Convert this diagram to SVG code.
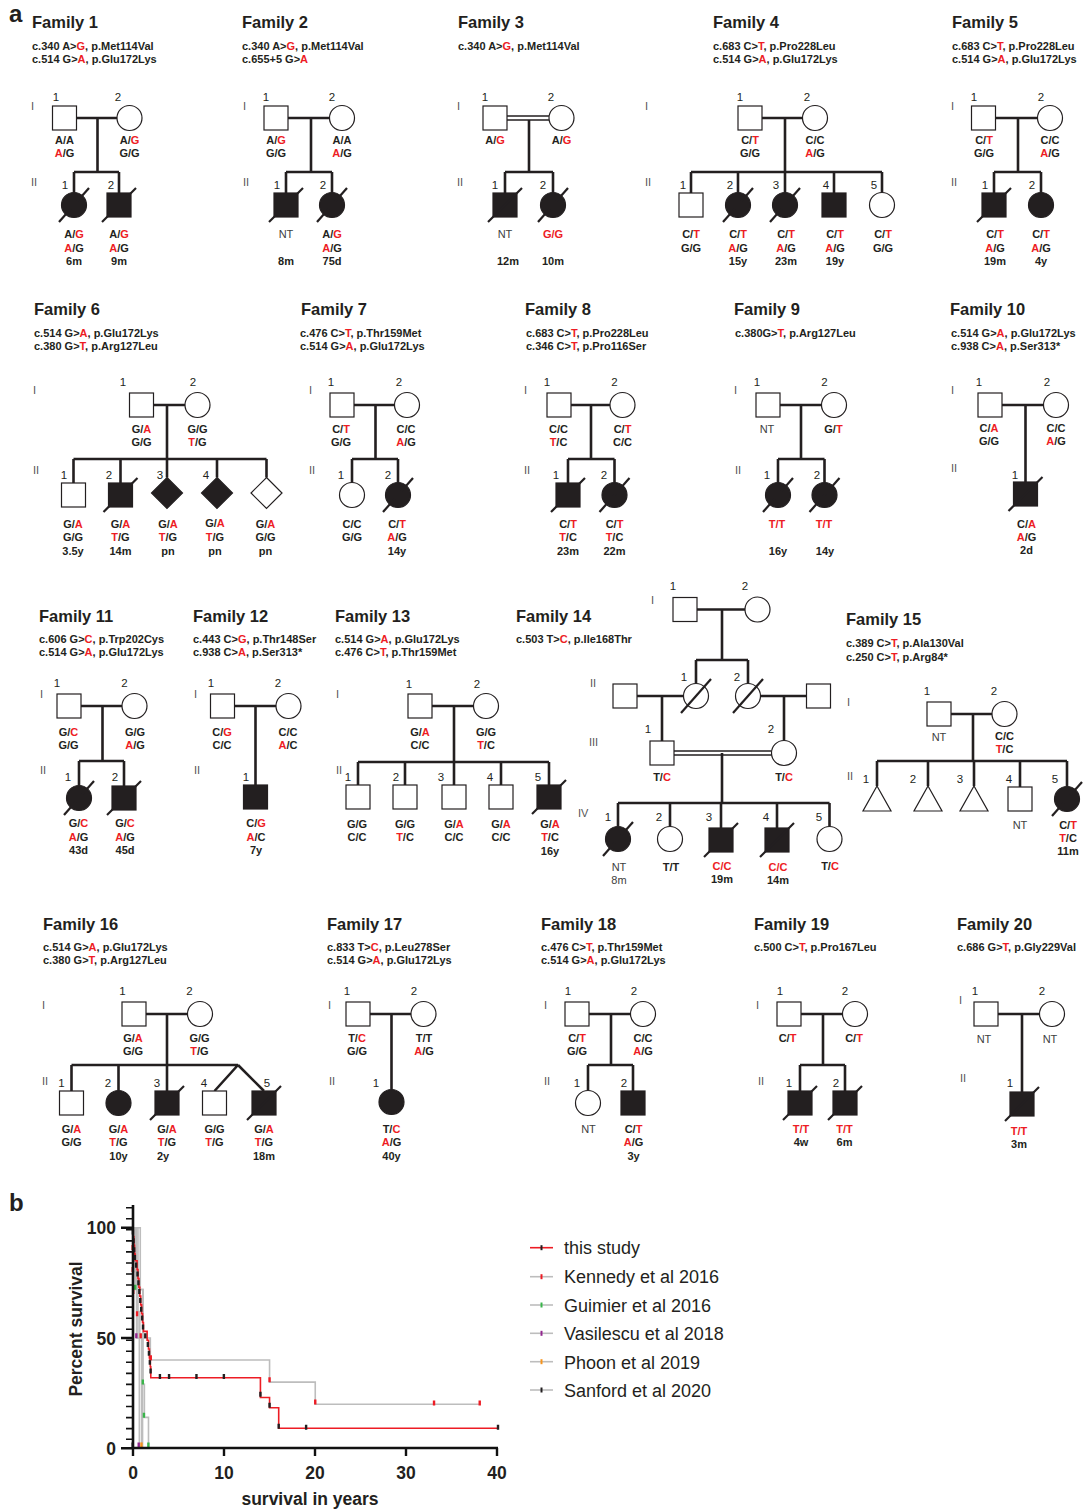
<svg xmlns="http://www.w3.org/2000/svg" width="1083" height="1510" viewBox="0 0 1083 1510">
<style>
text{font-family:'Liberation Sans',Arial,Helvetica,sans-serif;fill:#231f20}
.t{font-size:16.5px;font-weight:bold}
.m{font-size:11px;font-weight:bold}
.g{font-size:11px;font-weight:bold;text-anchor:middle}
.nt{font-size:11px;text-anchor:middle;fill:#404040}
.n{font-size:11.5px;text-anchor:middle}
.gl{font-size:11px;fill:#555}
.r{fill:#ed1c24}
.o{fill:#fff;stroke:#231f20;stroke-width:1.2}
.f{fill:#231f20;stroke:#231f20;stroke-width:1.2}
.l{fill:none;stroke:#231f20;stroke-width:2.6}
.l2{fill:none;stroke:#231f20;stroke-width:1.6}
.sl{fill:none;stroke:#231f20;stroke-width:2.2}
.pl{font-size:24px;font-weight:bold}
.ax{font-size:17.5px;font-weight:bold}
.lg{font-size:18px}
.cv{fill:none;stroke-width:1.6;vector-effect:non-scaling-stroke}
.ck{fill:none;stroke-width:2.4;vector-effect:non-scaling-stroke}
</style>
<defs>
<rect id="sq" class="o" x="-12" y="-12" width="24" height="24"/>
<rect id="sqf" class="f" x="-12" y="-12" width="24" height="24"/>
<circle id="ci" class="o" r="12.5"/>
<circle id="cif" class="f" r="12.5"/>
<path id="di" class="o" d="M0,-15.5L15.5,0L0,15.5L-15.5,0Z"/>
<path id="dif" class="f" d="M0,-15.5L15.5,0L0,15.5L-15.5,0Z"/>
<path id="tri" class="o" d="M0,-12.5L14,12.5H-14Z"/>
<path id="ds" class="sl" d="M-17,17L17,-17"/>
<path id="dc" class="sl" d="M-15,17L15,-17"/>
</defs>
<rect width="1083" height="1510" fill="#fff"/>
<text class="pl" x="9" y="22">a</text>
<text class="pl" x="9" y="1211">b</text>

<g id="connectors">
<g id="c-f1" class="l"><path d="M76.5,118H117M97.5,118V172M74,172H119M74,172V192.5M119,172V193"/></g>
<g id="c-f2" class="l"><path d="M288,118H329.5M311,118V172M286,172H332M286,172V193M332,172V192.5"/></g>
<g id="c-f3"><path class="l2" d="M507,116H549M507,120H549"/><path class="l" d="M529,120V172M505,172H553M505,172V193M553,172V192.5"/></g>
<g id="c-f4" class="l"><path d="M762,118H802.5M785,118V172M691,172H882M691,172V193M738,172V192.5M785,172V192.5M834,172V193M882,172V192.5"/></g>
<g id="c-f5" class="l"><path d="M995.5,118H1037.5M1018,118V172M994,172H1041M994,172V193M1041,172V192.5"/></g>
<g id="c-f6" class="l"><path d="M153.5,405H185M167,405V459M73.5,459H266.5M73.5,459V483M120.5,459V483M167,459V477.5M217,459V477.5M266.5,459V477.5"/></g>
<g id="c-f7" class="l"><path d="M354,405H394.5M375.5,405V459M352,459H398M352,459V482.5M398,459V482.5"/></g>
<g id="c-f8" class="l"><path d="M571,405H610M591,405V459M568,459H614.5M568,459V483M614.5,459V482.5"/></g>
<g id="c-f9" class="l"><path d="M780,405H821.5M801,405V459M778,459H824.5M778,459V482.5M824.5,459V482.5"/></g>
<g id="c-f10" class="l"><path d="M1002,405H1043.5M1025.5,405V482"/></g>
<g id="c-f11" class="l"><path d="M81,706H122M102.5,706V761M79,761H124M79,761V785.5M124,761V786"/></g>
<g id="c-f12" class="l"><path d="M234.5,706H276M255.5,706V785"/></g>
<g id="c-f13" class="l"><path d="M432,706H473.5M454,706V762M358,762H549M358,762V785M405,762V785M454,762V785M501,762V785M549,762V785"/></g>
<g id="c-f14"><path class="l" d="M697,609.5H745M722,609.5V660M696,660H748M696,660V683.5M748,660V683.5M637,696H683.5M662,696V741M760.5,696H806.5M784,696V740.5M722,753V803M618,803H829.5M618,803V826.5M670,803V826.5M721,803V828M777,803V828M829.5,803V826.5"/><path class="l2" d="M674,751H771.5M674,755H771.5"/></g>
<g id="c-f15" class="l"><path d="M951,714H992M973,714V761M877,761H1067M877,761V786M928,761V786M974,761V786M1020,761V787M1067,761V786.5"/></g>
<g id="c-f16" class="l"><path d="M146,1014H187.5M167,1014V1065M71.5,1065H238M71.5,1065V1091M118.5,1065V1090.5M167,1065V1091M238,1065L214.5,1091M238,1065L264,1091"/></g>
<g id="c-f17" class="l"><path d="M370,1014H411M391.5,1014V1089.5"/></g>
<g id="c-f18" class="l"><path d="M589,1014H630.5M611,1014V1065M588,1065H633M588,1065V1090.5M633,1065V1091"/></g>
<g id="c-f19" class="l"><path d="M801,1014H842.5M823,1014V1065M800,1065H845M800,1065V1091M845,1065V1091"/></g>
<g id="c-f20" class="l"><path d="M998,1014H1039.5M1022,1014V1092"/></g>
</g>

<!-- Family 1 -->
<g id="family1">
<text class="t" x="32" y="28">Family 1</text>
<text class="m" x="32" y="50">c.340 A&gt;<tspan class="r">G</tspan>, p.Met114Val</text>
<text class="m" x="32" y="63">c.514 G&gt;<tspan class="r">A</tspan>, p.Glu172Lys</text>
<text class="gl" x="31" y="110">I</text><text class="gl" x="31" y="186">II</text>
</g>
<g id="f1-I1"><use href="#sq" x="64.5" y="118"/><text class="n" x="56" y="101">1</text><text class="g" x="64.5" y="144">A/A</text><text class="g" x="64.5" y="157"><tspan class="r">A</tspan>/G</text></g>
<g id="f1-I2"><use href="#ci" x="129.5" y="118"/><text class="n" x="118" y="101">2</text><text class="g" x="129.5" y="144">A/<tspan class="r">G</tspan></text><text class="g" x="129.5" y="157">G/G</text></g>
<g id="f1-II1"><use href="#cif" x="74" y="205"/><use href="#dc" x="74" y="205"/><text class="n" x="65" y="189">1</text><text class="g" x="74" y="238">A/<tspan class="r">G</tspan></text><text class="g" x="74" y="252"><tspan class="r">A</tspan>/G</text><text class="g" x="74" y="265">6m</text></g>
<g id="f1-II2"><use href="#sqf" x="119" y="205"/><use href="#ds" x="119" y="205"/><text class="n" x="111" y="189">2</text><text class="g" x="119" y="238">A/<tspan class="r">G</tspan></text><text class="g" x="119" y="252"><tspan class="r">A</tspan>/G</text><text class="g" x="119" y="265">9m</text></g>

<!-- Family 2 -->
<g id="family2">
<text class="t" x="242" y="28">Family 2</text>
<text class="m" x="242" y="50">c.340 A&gt;<tspan class="r">G</tspan>, p.Met114Val</text>
<text class="m" x="242" y="63">c.655+5 G&gt;<tspan class="r">A</tspan></text>
<text class="gl" x="243" y="110">I</text><text class="gl" x="243" y="186">II</text>
</g>
<g id="f2-I1"><use href="#sq" x="276" y="118"/><text class="n" x="266" y="101">1</text><text class="g" x="276" y="144">A/<tspan class="r">G</tspan></text><text class="g" x="276" y="157">G/G</text></g>
<g id="f2-I2"><use href="#ci" x="342" y="118"/><text class="n" x="332" y="101">2</text><text class="g" x="342" y="144">A/A</text><text class="g" x="342" y="157"><tspan class="r">A</tspan>/G</text></g>
<g id="f2-II1"><use href="#sqf" x="286" y="205"/><use href="#ds" x="286" y="205"/><text class="n" x="277" y="189">1</text><text class="nt" x="286" y="238">NT</text><text class="g" x="286" y="265">8m</text></g>
<g id="f2-II2"><use href="#cif" x="332" y="205"/><use href="#dc" x="332" y="205"/><text class="n" x="323" y="189">2</text><text class="g" x="332" y="238">A/<tspan class="r">G</tspan></text><text class="g" x="332" y="252"><tspan class="r">A</tspan>/G</text><text class="g" x="332" y="265">75d</text></g>

<!-- Family 3 -->
<g id="family3">
<text class="t" x="458" y="28">Family 3</text>
<text class="m" x="458" y="50">c.340 A&gt;<tspan class="r">G</tspan>, p.Met114Val</text>
<text class="gl" x="457" y="110">I</text><text class="gl" x="457" y="186">II</text>
</g>
<g id="f3-I1"><use href="#sq" x="495" y="118"/><text class="n" x="485" y="101">1</text><text class="g" x="495" y="144">A/<tspan class="r">G</tspan></text></g>
<g id="f3-I2"><use href="#ci" x="561.5" y="118"/><text class="n" x="551" y="101">2</text><text class="g" x="561.5" y="144">A/<tspan class="r">G</tspan></text></g>
<g id="f3-II1"><use href="#sqf" x="505" y="205"/><use href="#ds" x="505" y="205"/><text class="n" x="495" y="189">1</text><text class="nt" x="505" y="238">NT</text><text class="g" x="508" y="265">12m</text></g>
<g id="f3-II2"><use href="#cif" x="553" y="205"/><use href="#dc" x="553" y="205"/><text class="n" x="543" y="189">2</text><text class="g r" x="553" y="238">G/G</text><text class="g" x="553" y="265">10m</text></g>

<!-- Family 4 -->
<g id="family4">
<text class="t" x="713" y="28">Family 4</text>
<text class="m" x="713" y="50">c.683 C&gt;<tspan class="r">T</tspan>, p.Pro228Leu</text>
<text class="m" x="713" y="63">c.514 G&gt;<tspan class="r">A</tspan>, p.Glu172Lys</text>
<text class="gl" x="645" y="110">I</text><text class="gl" x="645" y="186">II</text>
</g>
<g id="f4-I1"><use href="#sq" x="750" y="118"/><text class="n" x="740" y="101">1</text><text class="g" x="750" y="144">C/<tspan class="r">T</tspan></text><text class="g" x="750" y="157">G/G</text></g>
<g id="f4-I2"><use href="#ci" x="815" y="118"/><text class="n" x="807" y="101">2</text><text class="g" x="815" y="144">C/C</text><text class="g" x="815" y="157"><tspan class="r">A</tspan>/G</text></g>
<g id="f4-II1"><use href="#sq" x="691" y="205"/><text class="n" x="683" y="189">1</text><text class="g" x="691" y="238">C/<tspan class="r">T</tspan></text><text class="g" x="691" y="252">G/G</text></g>
<g id="f4-II2"><use href="#cif" x="738" y="205"/><use href="#dc" x="738" y="205"/><text class="n" x="730" y="189">2</text><text class="g" x="738" y="238">C/<tspan class="r">T</tspan></text><text class="g" x="738" y="252"><tspan class="r">A</tspan>/G</text><text class="g" x="738" y="265">15y</text></g>
<g id="f4-II3"><use href="#cif" x="785" y="205"/><use href="#dc" x="785" y="205"/><text class="n" x="776" y="189">3</text><text class="g" x="786" y="238">C/<tspan class="r">T</tspan></text><text class="g" x="786" y="252"><tspan class="r">A</tspan>/G</text><text class="g" x="786" y="265">23m</text></g>
<g id="f4-II4"><use href="#sqf" x="834" y="205"/><text class="n" x="826" y="189">4</text><text class="g" x="835" y="238">C/<tspan class="r">T</tspan></text><text class="g" x="835" y="252"><tspan class="r">A</tspan>/G</text><text class="g" x="835" y="265">19y</text></g>
<g id="f4-II5"><use href="#ci" x="882" y="205"/><text class="n" x="874" y="189">5</text><text class="g" x="883" y="238">C/<tspan class="r">T</tspan></text><text class="g" x="883" y="252">G/G</text></g>

<!-- Family 5 -->
<g id="family5">
<text class="t" x="952" y="28">Family 5</text>
<text class="m" x="952" y="50">c.683 C&gt;<tspan class="r">T</tspan>, p.Pro228Leu</text>
<text class="m" x="952" y="63">c.514 G&gt;<tspan class="r">A</tspan>, p.Glu172Lys</text>
<text class="gl" x="951" y="110">I</text><text class="gl" x="951" y="186">II</text>
</g>
<g id="f5-I1"><use href="#sq" x="983.5" y="118"/><text class="n" x="974" y="101">1</text><text class="g" x="984" y="144">C/<tspan class="r">T</tspan></text><text class="g" x="984" y="157">G/G</text></g>
<g id="f5-I2"><use href="#ci" x="1050" y="118"/><text class="n" x="1041" y="101">2</text><text class="g" x="1050" y="144">C/C</text><text class="g" x="1050" y="157"><tspan class="r">A</tspan>/G</text></g>
<g id="f5-II1"><use href="#sqf" x="994" y="205"/><use href="#ds" x="994" y="205"/><text class="n" x="985" y="189">1</text><text class="g" x="995" y="238">C/<tspan class="r">T</tspan></text><text class="g" x="995" y="252"><tspan class="r">A</tspan>/G</text><text class="g" x="995" y="265">19m</text></g>
<g id="f5-II2"><use href="#cif" x="1041" y="205"/><text class="n" x="1032" y="189">2</text><text class="g" x="1041" y="238">C/<tspan class="r">T</tspan></text><text class="g" x="1041" y="252"><tspan class="r">A</tspan>/G</text><text class="g" x="1041" y="265">4y</text></g>

<!-- Family 6 -->
<g id="family6">
<text class="t" x="34" y="315">Family 6</text>
<text class="m" x="34" y="337">c.514 G&gt;<tspan class="r">A</tspan>, p.Glu172Lys</text>
<text class="m" x="34" y="350">c.380 G&gt;<tspan class="r">T</tspan>, p.Arg127Leu</text>
<text class="gl" x="33" y="394">I</text><text class="gl" x="33" y="474">II</text>
</g>
<g id="f6-I1"><use href="#sq" x="141.5" y="405"/><text class="n" x="123" y="386">1</text><text class="g" x="141.5" y="433">G/<tspan class="r">A</tspan></text><text class="g" x="141.5" y="446">G/G</text></g>
<g id="f6-I2"><use href="#ci" x="197.5" y="405"/><text class="n" x="193" y="386">2</text><text class="g" x="197.5" y="433">G/G</text><text class="g" x="197.5" y="446"><tspan class="r">T</tspan>/G</text></g>
<g id="f6-II1"><use href="#sq" x="73.5" y="495"/><text class="n" x="64" y="479">1</text><text class="g" x="73" y="528">G/<tspan class="r">A</tspan></text><text class="g" x="73" y="541">G/G</text><text class="g" x="73" y="555">3.5y</text></g>
<g id="f6-II2"><use href="#sqf" x="120.5" y="495"/><use href="#ds" x="120.5" y="495"/><text class="n" x="109" y="479">2</text><text class="g" x="120.5" y="528">G/<tspan class="r">A</tspan></text><text class="g" x="120.5" y="541"><tspan class="r">T</tspan>/G</text><text class="g" x="120.5" y="555">14m</text></g>
<g id="f6-II3"><use href="#dif" x="167" y="493"/><text class="n" x="160" y="479">3</text><text class="g" x="168" y="528">G/<tspan class="r">A</tspan></text><text class="g" x="168" y="541"><tspan class="r">T</tspan>/G</text><text class="g" x="168" y="555">pn</text></g>
<g id="f6-II4"><use href="#dif" x="217" y="493"/><text class="n" x="206" y="479">4</text><text class="g" x="215" y="527">G/<tspan class="r">A</tspan></text><text class="g" x="215" y="541"><tspan class="r">T</tspan>/G</text><text class="g" x="215" y="555">pn</text></g>
<g id="f6-II5"><use href="#di" x="266.5" y="493"/><text class="g" x="265.5" y="528">G/<tspan class="r">A</tspan></text><text class="g" x="265.5" y="541">G/G</text><text class="g" x="265.5" y="555">pn</text></g>

<!-- Family 7 -->
<g id="family7">
<text class="t" x="301" y="315">Family 7</text>
<text class="m" x="300" y="337">c.476 C&gt;<tspan class="r">T</tspan>, p.Thr159Met</text>
<text class="m" x="300" y="350">c.514 G&gt;<tspan class="r">A</tspan>, p.Glu172Lys</text>
<text class="gl" x="309" y="394">I</text><text class="gl" x="309" y="474">II</text>
</g>
<g id="f7-I1"><use href="#sq" x="342" y="405"/><text class="n" x="331" y="386">1</text><text class="g" x="341" y="433">C/<tspan class="r">T</tspan></text><text class="g" x="341" y="446">G/G</text></g>
<g id="f7-I2"><use href="#ci" x="407" y="405"/><text class="n" x="399" y="386">2</text><text class="g" x="406" y="433">C/C</text><text class="g" x="406" y="446"><tspan class="r">A</tspan>/G</text></g>
<g id="f7-II1"><use href="#ci" x="352" y="495"/><text class="n" x="341" y="479">1</text><text class="g" x="352" y="528">C/C</text><text class="g" x="352" y="541">G/G</text></g>
<g id="f7-II2"><use href="#cif" x="398" y="495"/><use href="#dc" x="398" y="495"/><text class="n" x="388" y="479">2</text><text class="g" x="397" y="528">C/<tspan class="r">T</tspan></text><text class="g" x="397" y="541"><tspan class="r">A</tspan>/G</text><text class="g" x="397" y="555">14y</text></g>

<!-- Family 8 -->
<g id="family8">
<text class="t" x="525" y="315">Family 8</text>
<text class="m" x="526" y="337">c.683 C&gt;<tspan class="r">T</tspan>, p.Pro228Leu</text>
<text class="m" x="526" y="350">c.346 C&gt;<tspan class="r">T</tspan>, p.Pro116Ser</text>
<text class="gl" x="524" y="394">I</text><text class="gl" x="524" y="474">II</text>
</g>
<g id="f8-I1"><use href="#sq" x="559" y="405"/><text class="n" x="547" y="386">1</text><text class="g" x="558.5" y="433">C/C</text><text class="g" x="558.5" y="446"><tspan class="r">T</tspan>/C</text></g>
<g id="f8-I2"><use href="#ci" x="622.5" y="405"/><text class="n" x="614.5" y="386">2</text><text class="g" x="622.5" y="433">C/<tspan class="r">T</tspan></text><text class="g" x="622.5" y="446">C/C</text></g>
<g id="f8-II1"><use href="#sqf" x="568" y="495"/><use href="#ds" x="568" y="495"/><text class="n" x="556" y="479">1</text><text class="g" x="568" y="528">C/<tspan class="r">T</tspan></text><text class="g" x="568" y="541"><tspan class="r">T</tspan>/C</text><text class="g" x="568" y="555">23m</text></g>
<g id="f8-II2"><use href="#cif" x="614.5" y="495"/><use href="#dc" x="614.5" y="495"/><text class="n" x="604" y="479">2</text><text class="g" x="614.5" y="528">C/<tspan class="r">T</tspan></text><text class="g" x="614.5" y="541"><tspan class="r">T</tspan>/C</text><text class="g" x="614.5" y="555">22m</text></g>

<!-- Family 9 -->
<g id="family9">
<text class="t" x="734" y="315">Family 9</text>
<text class="m" x="735" y="337">c.380G&gt;<tspan class="r">T</tspan>, p.Arg127Leu</text>
<text class="gl" x="734" y="394">I</text><text class="gl" x="735" y="474">II</text>
</g>
<g id="f9-I1"><use href="#sq" x="768" y="405"/><text class="n" x="757" y="386">1</text><text class="nt" x="767" y="433">NT</text></g>
<g id="f9-I2"><use href="#ci" x="834" y="405"/><text class="n" x="824.5" y="386">2</text><text class="g" x="833.5" y="433">G/<tspan class="r">T</tspan></text></g>
<g id="f9-II1"><use href="#cif" x="778" y="495"/><use href="#dc" x="778" y="495"/><text class="n" x="767" y="479">1</text><text class="g r" x="777" y="528">T/T</text><text class="g" x="778" y="555">16y</text></g>
<g id="f9-II2"><use href="#cif" x="824.5" y="495"/><use href="#dc" x="824.5" y="495"/><text class="n" x="817" y="479">2</text><text class="g r" x="824" y="528">T/T</text><text class="g" x="825" y="555">14y</text></g>

<!-- Family 10 -->
<g id="family10">
<text class="t" x="950" y="315">Family 10</text>
<text class="m" x="951" y="337">c.514 G&gt;<tspan class="r">A</tspan>, p.Glu172Lys</text>
<text class="m" x="951" y="350">c.938 C&gt;<tspan class="r">A</tspan>, p.Ser313*</text>
<text class="gl" x="951" y="394">I</text><text class="gl" x="951" y="472">II</text>
</g>
<g id="f10-I1"><use href="#sq" x="990" y="405"/><text class="n" x="979" y="386">1</text><text class="g" x="989" y="432">C/<tspan class="r">A</tspan></text><text class="g" x="989" y="445">G/G</text></g>
<g id="f10-I2"><use href="#ci" x="1056" y="405"/><text class="n" x="1047" y="386">2</text><text class="g" x="1056" y="432">C/C</text><text class="g" x="1056" y="445"><tspan class="r">A</tspan>/G</text></g>
<g id="f10-II1"><use href="#sqf" x="1025.5" y="494"/><use href="#ds" x="1025.5" y="494"/><text class="n" x="1015" y="479">1</text><text class="g" x="1026.5" y="528">C/<tspan class="r">A</tspan></text><text class="g" x="1026.5" y="541"><tspan class="r">A</tspan>/G</text><text class="g" x="1026.5" y="554">2d</text></g>

<!-- Family 11 -->
<g id="family11">
<text class="t" x="39" y="622">Family 11</text>
<text class="m" x="39" y="643">c.606 G&gt;<tspan class="r">C</tspan>, p.Trp202Cys</text>
<text class="m" x="39" y="656">c.514 G&gt;<tspan class="r">A</tspan>, p.Glu172Lys</text>
<text class="gl" x="40" y="698">I</text><text class="gl" x="40" y="774">II</text>
</g>
<g id="f11-I1"><use href="#sq" x="69" y="706"/><text class="n" x="57" y="687">1</text><text class="g" x="68.5" y="736">G/<tspan class="r">C</tspan></text><text class="g" x="68.5" y="749">G/G</text></g>
<g id="f11-I2"><use href="#ci" x="134.5" y="706"/><text class="n" x="124.5" y="687">2</text><text class="g" x="135" y="736">G/G</text><text class="g" x="135" y="749"><tspan class="r">A</tspan>/G</text></g>
<g id="f11-II1"><use href="#cif" x="79" y="798"/><use href="#dc" x="79" y="798"/><text class="n" x="68" y="781">1</text><text class="g" x="78.5" y="827">G/<tspan class="r">C</tspan></text><text class="g" x="78.5" y="841"><tspan class="r">A</tspan>/G</text><text class="g" x="78.5" y="854">43d</text></g>
<g id="f11-II2"><use href="#sqf" x="124" y="798"/><use href="#ds" x="124" y="798"/><text class="n" x="115" y="781">2</text><text class="g" x="125" y="827">G/<tspan class="r">C</tspan></text><text class="g" x="125" y="841"><tspan class="r">A</tspan>/G</text><text class="g" x="125" y="854">45d</text></g>

<!-- Family 12 -->
<g id="family12">
<text class="t" x="193" y="622">Family 12</text>
<text class="m" x="193" y="643">c.443 C&gt;<tspan class="r">G</tspan>, p.Thr148Ser</text>
<text class="m" x="193" y="656">c.938 C&gt;<tspan class="r">A</tspan>, p.Ser313*</text>
<text class="gl" x="194" y="698">I</text><text class="gl" x="194" y="774">II</text>
</g>
<g id="f12-I1"><use href="#sq" x="222.5" y="706"/><text class="n" x="211" y="687">1</text><text class="g" x="222" y="736">C/<tspan class="r">G</tspan></text><text class="g" x="222" y="749">C/C</text></g>
<g id="f12-I2"><use href="#ci" x="288.5" y="706"/><text class="n" x="278" y="687">2</text><text class="g" x="288" y="736">C/C</text><text class="g" x="288" y="749"><tspan class="r">A</tspan>/C</text></g>
<g id="f12-II1"><use href="#sqf" x="255.5" y="797"/><text class="n" x="246" y="781">1</text><text class="g" x="256" y="827">C/<tspan class="r">G</tspan></text><text class="g" x="256" y="841"><tspan class="r">A</tspan>/C</text><text class="g" x="256" y="854">7y</text></g>

<!-- Family 13 -->
<g id="family13">
<text class="t" x="335" y="622">Family 13</text>
<text class="m" x="335" y="643">c.514 G&gt;<tspan class="r">A</tspan>, p.Glu172Lys</text>
<text class="m" x="335" y="656">c.476 C&gt;<tspan class="r">T</tspan>, p.Thr159Met</text>
<text class="gl" x="336" y="698">I</text><text class="gl" x="336" y="774">II</text>
</g>
<g id="f13-I1"><use href="#sq" x="420" y="706"/><text class="n" x="409" y="688">1</text><text class="g" x="420" y="736">G/<tspan class="r">A</tspan></text><text class="g" x="420" y="749">C/C</text></g>
<g id="f13-I2"><use href="#ci" x="486" y="706"/><text class="n" x="477" y="688">2</text><text class="g" x="486" y="736">G/G</text><text class="g" x="486" y="749"><tspan class="r">T</tspan>/C</text></g>
<g id="f13-II1"><use href="#sq" x="358" y="797"/><text class="n" x="348" y="781">1</text><text class="g" x="357" y="828">G/G</text><text class="g" x="357" y="841">C/C</text></g>
<g id="f13-II2"><use href="#sq" x="405" y="797"/><text class="n" x="396" y="781">2</text><text class="g" x="405" y="828">G/G</text><text class="g" x="405" y="841"><tspan class="r">T</tspan>/C</text></g>
<g id="f13-II3"><use href="#sq" x="454" y="797"/><text class="n" x="441" y="781">3</text><text class="g" x="454" y="828">G/<tspan class="r">A</tspan></text><text class="g" x="454" y="841">C/C</text></g>
<g id="f13-II4"><use href="#sq" x="501" y="797"/><text class="n" x="490" y="781">4</text><text class="g" x="501" y="828">G/<tspan class="r">A</tspan></text><text class="g" x="501" y="841">C/C</text></g>
<g id="f13-II5"><use href="#sqf" x="549" y="797"/><use href="#ds" x="549" y="797"/><text class="n" x="538" y="781">5</text><text class="g" x="550" y="828">G/<tspan class="r">A</tspan></text><text class="g" x="550" y="841"><tspan class="r">T</tspan>/C</text><text class="g" x="550" y="855">16y</text></g>

<!-- Family 14 -->
<g id="family14">
<text class="t" x="516" y="622">Family 14</text>
<text class="m" x="516" y="643">c.503 T&gt;<tspan class="r">C</tspan>, p.Ile168Thr</text>
<text class="gl" x="651" y="604">I</text><text class="gl" x="590" y="687">II</text><text class="gl" x="589" y="746">III</text><text class="gl" x="578" y="817">IV</text>
</g>
<g id="f14-I1"><use href="#sq" x="685" y="609.5"/><text class="n" x="673" y="590">1</text></g>
<g id="f14-I2"><use href="#ci" x="757.5" y="609.5"/><text class="n" x="745" y="590">2</text></g>
<g id="f14-IIs1"><use href="#sq" x="625" y="696"/></g>
<g id="f14-II1"><use href="#ci" x="696" y="696"/><use href="#dc" x="696" y="696"/><text class="n" x="684" y="681">1</text></g>
<g id="f14-II2"><use href="#ci" x="748" y="696"/><use href="#dc" x="748" y="696"/><text class="n" x="737" y="681">2</text></g>
<g id="f14-IIs2"><use href="#sq" x="818.5" y="696"/></g>
<g id="f14-III1"><use href="#sq" x="662" y="753"/><text class="n" x="648" y="733">1</text><text class="g" x="662" y="781">T/<tspan class="r">C</tspan></text></g>
<g id="f14-III2"><use href="#ci" x="784" y="753"/><text class="n" x="771" y="733">2</text><text class="g" x="784" y="781">T/<tspan class="r">C</tspan></text></g>
<g id="f14-IV1"><use href="#cif" x="618" y="839"/><use href="#dc" x="618" y="839"/><text class="n" x="608" y="821">1</text><text class="nt" x="619" y="871">NT</text><text class="nt" x="619" y="884">8m</text></g>
<g id="f14-IV2"><use href="#ci" x="670" y="839"/><text class="n" x="659" y="821">2</text><text class="g" x="671" y="871">T/T</text></g>
<g id="f14-IV3"><use href="#sqf" x="721" y="840"/><use href="#ds" x="721" y="840"/><text class="n" x="709" y="821">3</text><text class="g r" x="722" y="870">C/C</text><text class="g" x="722" y="883">19m</text></g>
<g id="f14-IV4"><use href="#sqf" x="777" y="840"/><use href="#ds" x="777" y="840"/><text class="n" x="766" y="821">4</text><text class="g r" x="778" y="871">C/C</text><text class="g" x="778" y="884">14m</text></g>
<g id="f14-IV5"><use href="#ci" x="829.5" y="839"/><text class="n" x="819" y="821">5</text><text class="g" x="830" y="870">T/<tspan class="r">C</tspan></text></g>

<!-- Family 15 -->
<g id="family15">
<text class="t" x="846" y="625">Family 15</text>
<text class="m" x="846" y="647">c.389 C&gt;<tspan class="r">T</tspan>, p.Ala130Val</text>
<text class="m" x="846" y="661">c.250 C&gt;<tspan class="r">T</tspan>, p.Arg84*</text>
<text class="gl" x="847" y="706">I</text><text class="gl" x="847" y="780">II</text>
</g>
<g id="f15-I1"><use href="#sq" x="939" y="714"/><text class="n" x="927" y="695">1</text><text class="nt" x="939" y="741">NT</text></g>
<g id="f15-I2"><use href="#ci" x="1004.5" y="714"/><text class="n" x="994" y="695">2</text><text class="g" x="1004.5" y="740">C/C</text><text class="g" x="1004.5" y="753"><tspan class="r">T</tspan>/C</text></g>
<g id="f15-II1"><use href="#tri" x="877" y="798.5"/><text class="n" x="866" y="783">1</text></g>
<g id="f15-II2"><use href="#tri" x="928" y="798.5"/><text class="n" x="913" y="783">2</text></g>
<g id="f15-II3"><use href="#tri" x="974" y="798.5"/><text class="n" x="960" y="783">3</text></g>
<g id="f15-II4"><use href="#sq" x="1020" y="799"/><text class="n" x="1009" y="783">4</text><text class="nt" x="1020" y="829">NT</text></g>
<g id="f15-II5"><use href="#cif" x="1067" y="799"/><use href="#dc" x="1067" y="799"/><text class="n" x="1055" y="783">5</text><text class="g" x="1068" y="829">C/<tspan class="r">T</tspan></text><text class="g" x="1068" y="842"><tspan class="r">T</tspan>/C</text><text class="g" x="1068" y="855">11m</text></g>

<!-- Family 16 -->
<g id="family16">
<text class="t" x="43" y="930">Family 16</text>
<text class="m" x="43" y="951">c.514 G&gt;<tspan class="r">A</tspan>, p.Glu172Lys</text>
<text class="m" x="43" y="964">c.380 G&gt;<tspan class="r">T</tspan>, p.Arg127Leu</text>
<text class="gl" x="42" y="1009">I</text><text class="gl" x="42" y="1085">II</text>
</g>
<g id="f16-I1"><use href="#sq" x="134" y="1014"/><text class="n" x="122.5" y="995">1</text><text class="g" x="133" y="1042">G/<tspan class="r">A</tspan></text><text class="g" x="133" y="1055">G/G</text></g>
<g id="f16-I2"><use href="#ci" x="200" y="1014"/><text class="n" x="189.5" y="995">2</text><text class="g" x="199.5" y="1042">G/G</text><text class="g" x="199.5" y="1055"><tspan class="r">T</tspan>/G</text></g>
<g id="f16-II1"><use href="#sq" x="71.5" y="1103"/><text class="n" x="61.5" y="1087">1</text><text class="g" x="71.5" y="1133">G/<tspan class="r">A</tspan></text><text class="g" x="71.5" y="1146">G/G</text></g>
<g id="f16-II2"><use href="#cif" x="118.5" y="1103"/><text class="n" x="108" y="1087">2</text><text class="g" x="118.5" y="1133">G/<tspan class="r">A</tspan></text><text class="g" x="118.5" y="1146"><tspan class="r">T</tspan>/G</text><text class="g" x="118.5" y="1160">10y</text></g>
<g id="f16-II3"><use href="#sqf" x="167" y="1103"/><use href="#ds" x="167" y="1103"/><text class="n" x="157" y="1087">3</text><text class="g" x="167" y="1133">G/<tspan class="r">A</tspan></text><text class="g" x="167" y="1146"><tspan class="r">T</tspan>/G</text><text class="g" x="163" y="1160">2y</text></g>
<g id="f16-II4"><use href="#sq" x="214.5" y="1103"/><text class="n" x="204" y="1087">4</text><text class="g" x="214.5" y="1133">G/G</text><text class="g" x="214.5" y="1146"><tspan class="r">T</tspan>/G</text></g>
<g id="f16-II5"><use href="#sqf" x="264" y="1103"/><use href="#ds" x="264" y="1103"/><text class="n" x="267" y="1087">5</text><text class="g" x="264" y="1133">G/<tspan class="r">A</tspan></text><text class="g" x="264" y="1146"><tspan class="r">T</tspan>/G</text><text class="g" x="264" y="1160">18m</text></g>

<!-- Family 17 -->
<g id="family17">
<text class="t" x="327" y="930">Family 17</text>
<text class="m" x="327" y="951">c.833 T&gt;<tspan class="r">C</tspan>, p.Leu278Ser</text>
<text class="m" x="327" y="964">c.514 G&gt;<tspan class="r">A</tspan>, p.Glu172Lys</text>
<text class="gl" x="328" y="1009">I</text><text class="gl" x="329" y="1085">II</text>
</g>
<g id="f17-I1"><use href="#sq" x="358" y="1014"/><text class="n" x="347" y="995">1</text><text class="g" x="357" y="1042">T/<tspan class="r">C</tspan></text><text class="g" x="357" y="1055">G/G</text></g>
<g id="f17-I2"><use href="#ci" x="423.5" y="1014"/><text class="n" x="414" y="995">2</text><text class="g" x="424" y="1042">T/T</text><text class="g" x="424" y="1055"><tspan class="r">A</tspan>/G</text></g>
<g id="f17-II1"><use href="#cif" x="391.5" y="1102"/><text class="n" x="376" y="1087">1</text><text class="g" x="391.5" y="1133">T/<tspan class="r">C</tspan></text><text class="g" x="391.5" y="1146"><tspan class="r">A</tspan>/G</text><text class="g" x="391.5" y="1160">40y</text></g>

<!-- Family 18 -->
<g id="family18">
<text class="t" x="541" y="930">Family 18</text>
<text class="m" x="541" y="951">c.476 C&gt;<tspan class="r">T</tspan>, p.Thr159Met</text>
<text class="m" x="541" y="964">c.514 G&gt;<tspan class="r">A</tspan>, p.Glu172Lys</text>
<text class="gl" x="544" y="1009">I</text><text class="gl" x="544" y="1085">II</text>
</g>
<g id="f18-I1"><use href="#sq" x="577" y="1014"/><text class="n" x="568" y="995">1</text><text class="g" x="577" y="1042">C/<tspan class="r">T</tspan></text><text class="g" x="577" y="1055">G/G</text></g>
<g id="f18-I2"><use href="#ci" x="643" y="1014"/><text class="n" x="634" y="995">2</text><text class="g" x="643" y="1042">C/C</text><text class="g" x="643" y="1055"><tspan class="r">A</tspan>/G</text></g>
<g id="f18-II1"><use href="#ci" x="588" y="1103"/><text class="n" x="577" y="1087">1</text><text class="nt" x="588.5" y="1133">NT</text></g>
<g id="f18-II2"><use href="#sqf" x="633" y="1103"/><text class="n" x="624" y="1087">2</text><text class="g" x="633.5" y="1133">C/<tspan class="r">T</tspan></text><text class="g" x="633.5" y="1146"><tspan class="r">A</tspan>/G</text><text class="g" x="633.5" y="1160">3y</text></g>

<!-- Family 19 -->
<g id="family19">
<text class="t" x="754" y="930">Family 19</text>
<text class="m" x="754" y="951">c.500 C&gt;<tspan class="r">T</tspan>, p.Pro167Leu</text>
<text class="gl" x="756" y="1009">I</text><text class="gl" x="758" y="1085">II</text>
</g>
<g id="f19-I1"><use href="#sq" x="789" y="1014"/><text class="n" x="780" y="995">1</text><text class="g" x="787.5" y="1042">C/<tspan class="r">T</tspan></text></g>
<g id="f19-I2"><use href="#ci" x="855" y="1014"/><text class="n" x="845" y="995">2</text><text class="g" x="854" y="1042">C/<tspan class="r">T</tspan></text></g>
<g id="f19-II1"><use href="#sqf" x="800" y="1103"/><use href="#ds" x="800" y="1103"/><text class="n" x="789" y="1087">1</text><text class="g r" x="801" y="1133">T/T</text><text class="g" x="801" y="1146">4w</text></g>
<g id="f19-II2"><use href="#sqf" x="845" y="1103"/><use href="#ds" x="845" y="1103"/><text class="n" x="836" y="1087">2</text><text class="g r" x="844.5" y="1133">T/T</text><text class="g" x="844.5" y="1146">6m</text></g>

<!-- Family 20 -->
<g id="family20">
<text class="t" x="957" y="930">Family 20</text>
<text class="m" x="957" y="951">c.686 G&gt;<tspan class="r">T</tspan>, p.Gly229Val</text>
<text class="gl" x="959" y="1004">I</text><text class="gl" x="960" y="1082">II</text>
</g>
<g id="f20-I1"><use href="#sq" x="986" y="1014"/><text class="n" x="975" y="995">1</text><text class="nt" x="984" y="1043">NT</text></g>
<g id="f20-I2"><use href="#ci" x="1052" y="1014"/><text class="n" x="1042" y="995">2</text><text class="nt" x="1050" y="1043">NT</text></g>
<g id="f20-II1"><use href="#sqf" x="1022" y="1104"/><use href="#ds" x="1022" y="1104"/><text class="n" x="1010" y="1087">1</text><text class="g r" x="1019" y="1135">T/T</text><text class="g" x="1019" y="1148">3m</text></g>

<!-- Survival chart -->
<g id="chart">
<g transform="translate(132.5 1448.3) scale(9.1375 -2.206)">
<path class="cv" stroke="#bdbdbd" d="M0,100H0.15V80H0.5V62H0.8V50H1.1V0"/>
<path class="cv" stroke="#bdbdbd" d="M0,100H0.6V50H1.0V0"/>
<path class="cv" stroke="#bdbdbd" d="M0,100H0.45V50H0.75V0"/>
<path class="cv" stroke="#bdbdbd" d="M0,100H0.3V72H1.15V29H1.3V14H1.75V0"/>
<path class="cv" stroke="#bdbdbd" d="M0,100H0.85V72H1.15V50H1.95V40H15V30H20V20H38"/>
<path class="cv" stroke="#ed1c24" d="M0,100H0.08V96H0.15V92H0.22V88H0.3V85H0.5V81H0.6V77H0.7V73H0.8V69H0.9V65H1.0V61H1.1V57H1.2V53H1.6V49H1.75V45H1.85V41H1.95V37H2.0V32H14V23H15V18.4H16V9.1H40"/>
<path class="ck" stroke="#231f20" d="M0.04,96.9v2.27M0.11,92.9v2.27M0.18,88.9v2.27M0.26,85.4v2.27M0.4,81.9v2.27M0.55,77.9v2.27M0.65,73.9v2.27M0.75,69.9v2.27M0.85,65.9v2.27M0.95,61.9v2.27M1.05,57.9v2.27M1.15,53.9v2.27M1.4,49.9v2.27M1.68,45.9v2.27M1.8,41.9v2.27M1.9,37.9v2.27M1.98,33.9v2.27M3,31.4v2.27M4,31.4v2.27M7,31.4v2.27M10,31.4v2.27M14,23.4v2.27M15,18.4v2.27M16,8.9v2.27M19,8.4v2.27M40,8.4v2.27M0.02,0.4v2.27"/>
<path class="ck" stroke="#ed1c24" d="M0.02,89.9v2.27M0.02,79.9v2.27M0.08,69.9v2.27M0.5,59.9v2.27M0.9,49.9v2.27M2,39.9v2.27M15,29.9v2.27M20,19.9v2.27M33,19.4v2.27M38,19.4v2.27"/>
<path class="ck" stroke="#39b54a" d="M0.3,71.9v2.27M1.13,28.9v2.27M1.25,13.9v2.27M1.74,0.4v2.27"/>
<path class="ck" stroke="#92278f" d="M0.42,49.9v2.27M0.68,0.4v2.27"/>
<path class="ck" stroke="#f7941d" d="M0.98,0.4v2.27"/>
</g>
<path fill="none" stroke="#111" stroke-width="2.6" d="M133,1205V1448H498"/>
<path fill="none" stroke="#111" stroke-width="1.6" d="M126,1218.8H133M126,1229.8H133M126,1240.9H133M126,1251.9H133M126,1263H133M126,1274H133M126,1285H133M126,1296.1H133M126,1307.1H133M126,1318.2H133M126,1329.2H133M126,1340.3H133M126,1351.3H133M126,1362.3H133M126,1373.4H133M126,1384.4H133M126,1395.5H133M126,1406.5H133M126,1417.6H133M126,1428.6H133M126,1439.3H133M126,1207.7H133"/>
<path fill="none" stroke="#111" stroke-width="2.4" d="M121,1227.7H133M121,1338H133M121,1448.3H133M133,1448V1456M224,1448V1456M315,1448V1456M406,1448V1456M497,1448V1456"/>
<text class="ax" x="116" y="1234" text-anchor="end">100</text>
<text class="ax" x="116" y="1344.5" text-anchor="end">50</text>
<text class="ax" x="116" y="1455" text-anchor="end">0</text>
<text class="ax" x="133" y="1479" text-anchor="middle">0</text>
<text class="ax" x="224" y="1479" text-anchor="middle">10</text>
<text class="ax" x="315" y="1479" text-anchor="middle">20</text>
<text class="ax" x="406" y="1479" text-anchor="middle">30</text>
<text class="ax" x="497" y="1479" text-anchor="middle">40</text>
<text class="ax" x="310" y="1505" text-anchor="middle" font-size="18">survival in years</text>
<text class="ax" transform="translate(82 1329) rotate(-90)" text-anchor="middle" font-size="18">Percent survival</text>
</g>

<g id="legend">
<path d="M530,1247.7H553" stroke="#ed1c24" stroke-width="1.6"/><path d="M541.5,1245.2v5" stroke="#231f20" stroke-width="2"/><text class="lg" x="564" y="1254">this study</text>
<path d="M530,1276.7H553" stroke="#bdbdbd" stroke-width="1.6"/><path d="M541.5,1274.2v5" stroke="#ed1c24" stroke-width="2"/><text class="lg" x="564" y="1283">Kennedy et al 2016</text>
<path d="M530,1305H553" stroke="#bdbdbd" stroke-width="1.6"/><path d="M541.5,1302.5v5" stroke="#39b54a" stroke-width="2"/><text class="lg" x="564" y="1311.5">Guimier et al 2016</text>
<path d="M530,1333.3H553" stroke="#bdbdbd" stroke-width="1.6"/><path d="M541.5,1330.8v5" stroke="#92278f" stroke-width="2"/><text class="lg" x="564" y="1340">Vasilescu et al 2018</text>
<path d="M530,1361.7H553" stroke="#bdbdbd" stroke-width="1.6"/><path d="M541.5,1359.2v5" stroke="#f7941d" stroke-width="2"/><text class="lg" x="564" y="1368.5">Phoon et al 2019</text>
<path d="M530,1390H553" stroke="#bdbdbd" stroke-width="1.6"/><path d="M541.5,1387.5v5" stroke="#231f20" stroke-width="2"/><text class="lg" x="564" y="1397">Sanford et al 2020</text>
</g>
</svg>
